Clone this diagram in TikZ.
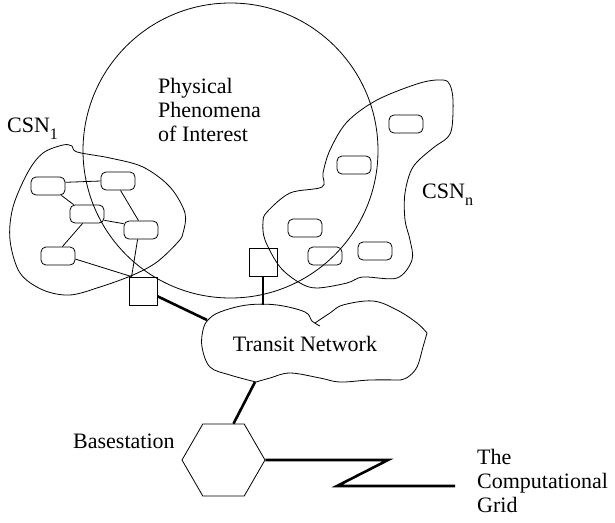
\documentclass[tikz,border=0pt]{standalone}
\usepackage{fontspec}
\setmainfont{Liberation Serif}
\usetikzlibrary{shapes.geometric,calc}
\newcommand{\lowidx}[1]{\raisebox{-0.32em}{\fontsize{16}{16}\selectfont #1}}
\tikzset{
  thin line/.style={line width=0.8pt},
  thick link/.style={line width=2.6pt},
  sensor/.style={draw, thin line, rounded corners=5pt, minimum width=34pt, minimum height=18pt, inner sep=0pt},
  gateway/.style={draw, thin line, minimum size=28pt, inner sep=0pt},
  label/.style={inner sep=0pt, font=\fontsize{22}{24}\selectfont},
  blob/.style={draw, thin line},
}
\begin{document}
\begin{tikzpicture}[x=1pt, y=-1pt]
\fill[white] (0,0) rectangle (615,522);
\useasboundingbox (0,0) rectangle (615,522);

% physical phenomenon region
\node[circle, draw, thin line, minimum size=295pt, inner sep=0pt] (phen) at (230.5,150.5) {};
% multi-line labels are anchored at the baseline of their last line
\node[label, anchor=base west, align=left] (phentext) at (158,141) {Physical\\Phenomena\\of Interest};

% sensor network 1 outline
\draw[blob] plot[smooth cycle, tension=0.55] coordinates {
  (43,153) (63,145) (72,146) (77,152) (110,158) (143,167) (170,187) (185,213)
  (183,233) (178,242) (157,262) (133,275) (100,287) (70,295) (43,290) (20,273)
  (10,240) (13,207) (28,172)};

% sensor network n outline
\draw[blob] plot[smooth cycle, tension=0.55] coordinates {
  (267,212) (290,193) (322,187) (323,173) (330,150) (347,122) (377,100) (420,83)
  (443,80) (450,85) (453,100) (452,127) (447,138) (433,148) (413,167) (405,193)
  (405,220) (410,240) (412,260) (397,278) (363,277) (347,283) (317,288) (300,283)
  (280,267) (265,240) (263,222)};

% transit network cloud
\draw[blob] plot[smooth, tension=0.6] coordinates {
  (256,382) (230,375) (210,367) (202,347) (203,330) (208,320) (220,312) (247,305)
  (277,305) (305,312) (312,321) (320,326)};
\draw[blob] plot[smooth, tension=0.6] coordinates {
  (315,323) (330,313) (343,305) (373,301) (397,310) (417,323) (427,333)};
\draw[blob] plot[smooth, tension=0.6] coordinates {
  (427,333) (423,347) (417,367) (408,377) (400,380)};
\draw[blob] plot[smooth, tension=0.6] coordinates {
  (400,380) (370,380) (340,382) (320,378) (290,373) (270,378) (256,382)};
\node[label, anchor=base] (transit) at (305,351) {Transit Network};
\coordinate (cloudW) at (207,320);
\coordinate (cloudN) at (263,305);
\coordinate (cloudS) at (255,382);

% sensors of network 1
\node[sensor] (a1) at (48,186) {};
\node[sensor] (a2) at (118,181) {};
\node[sensor] (a3) at (87,214) {};
\node[sensor] (a4) at (141,230) {};
\node[sensor] (a5) at (58,256) {};

% sensors of network n
\node[sensor] (b1) at (406,124) {};
\node[sensor] (b2) at (354,165) {};
\node[sensor] (b3) at (305,228) {};
\node[sensor] (b4) at (325,256) {};
\node[sensor] (b5) at (375,251) {};

% gateways
\node[gateway] (g1) at (143,291) {};
\node[gateway] (g2) at (263,262) {};
\coordinate (g1in) at ($(g1.north west)+(3,0)$);

% links inside network 1
\draw[thin line] (a1.12) -- (a2.west);
\draw[thin line] (a1.-35) -- (a3.145);
\draw[thin line] (a3.-20) -- (a4.160);
\draw[thin line] (a2.-75) -- (a4.105);
\draw[thin line] (a3.-115) -- (a5.65);
\draw[thin line] (a5.-10) -- (g1in);
\draw[thin line] (a4.-110) -- (g1in);

% gateway uplinks
\draw[thick link] (g1.-20) -- (cloudW);
\draw[thick link] (g2.south) -- (cloudN);

% base station and grid connection
\node[regular polygon, regular polygon sides=6, draw, thin line, minimum size=83pt, inner sep=0pt] (base) at (223.5,460) {};
\node[label, anchor=base west] (basetext) at (73,448) {Basestation};
\draw[thick link] (cloudS) -- ([xshift=10pt]base.north);
\coordinate (zz1) at (388,460);
\coordinate (zz2) at (337,486);
\coordinate (gridend) at (455,486);
\draw[thick link, line join=miter] (base.east) -- (zz1) -- (zz2) -- (gridend);
\node[label, anchor=base west, align=left] (gridtext) at (477,512) {The\\Computational\\Grid};

% network labels
\node[label, anchor=base west] (csn1) at (7,132) {CSN\lowidx{1}};
\node[label, anchor=base west] (csnn) at (422,198) {CSN\lowidx{n}};
\end{tikzpicture}
\end{document}
